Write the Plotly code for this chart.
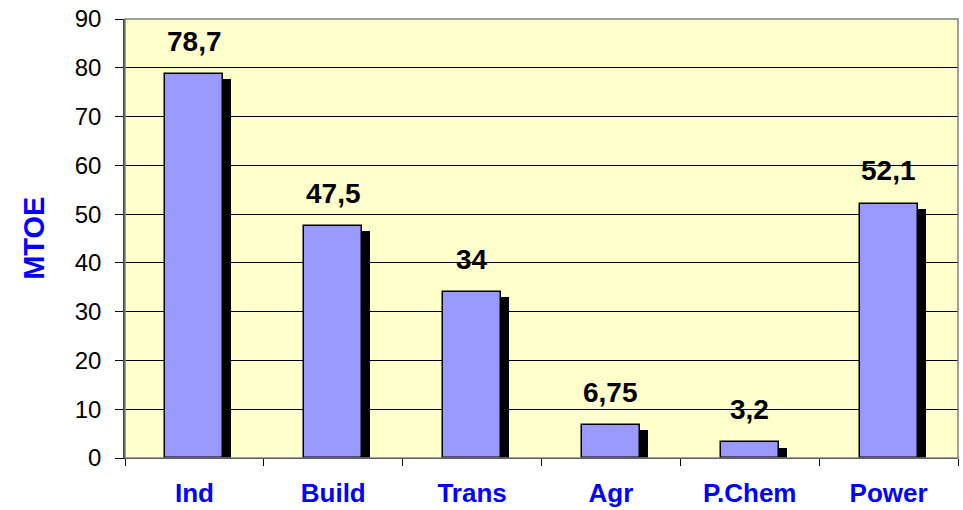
import plotly.graph_objects as go

categories = ["Ind", "Build", "Trans", "Agr", "P.Chem", "Power"]
values = [78.7, 47.5, 34, 6.75, 3.2, 52.1]
value_labels = ["78,7", "47,5", "34", "6,75", "3,2", "52,1"]
y_ticks = [0, 10, 20, 30, 40, 50, 60, 70, 80, 90]

FONT = "Arial, 'Liberation Sans', sans-serif"
BAR_W = 0.418
SHADOW_DX = 0.058
SHADOW_DY = 1.05  # data units (~5px)

fig = go.Figure()

# shadow bars
fig.add_trace(go.Bar(
    x=categories,
    y=[max(v - SHADOW_DY, 0) for v in values],
    width=BAR_W,
    offset=-BAR_W / 2 + SHADOW_DX,
    marker=dict(color="#000000", line=dict(width=0)),
    hoverinfo="skip",
    showlegend=False,
))
# main bars
fig.add_trace(go.Bar(
    x=categories,
    y=values,
    width=BAR_W,
    offset=-BAR_W / 2,
    marker=dict(color="#9999FF", line=dict(color="#000000", width=1.5)),
    showlegend=False,
))

fig.update_layout(
    width=963, height=510,
    margin=dict(l=125, r=5, t=19, b=52),
    paper_bgcolor="#FFFFFF",
    plot_bgcolor="#FFFFCC",
    barmode="overlay",
    bargap=0,
    font=dict(family=FONT),
    xaxis=dict(
        range=[-0.5, 5.5],
        automargin=False,
        tickson="boundaries",
        ticks="outside", ticklen=7, tickcolor="#000000", tickwidth=1,
        showline=True, linecolor="#000000", linewidth=1,
        showgrid=False,
        tickfont=dict(family=FONT, size=26, color="#0000FF", weight="bold"),
        ticklabelstandoff=12,
    ),
    yaxis=dict(
        range=[0, 90],
        automargin=False,
        tickvals=y_ticks,
        ticks="outside", ticklen=8, tickcolor="#000000", tickwidth=1,
        showline=True, linecolor="#404040", linewidth=1.5,
        showgrid=True, gridcolor="#000000", gridwidth=1,
        zeroline=False,
        tickfont=dict(family=FONT, size=24, color="#000000"),
        ticklabelstandoff=9,
    ),
    shapes=[dict(type="rect", xref="paper", yref="paper", x0=0, x1=1, y0=0, y1=1,
                 line=dict(color="#808080", width=1.5), fillcolor="rgba(0,0,0,0)", layer="above")],
    annotations=[dict(text="<b>MTOE</b>", xref="paper", yref="paper", x=-0.110, y=0.5,
                      xanchor="center", yanchor="middle", textangle=-90, showarrow=False,
                      font=dict(family=FONT, size=29, color="#0000FF"))],
)

for c, v, t in zip(categories, values, value_labels):
    fig.add_annotation(
        x=c, y=v, text=f"<b>{t}</b>", showarrow=False,
        yanchor="middle", yshift=33,
        font=dict(family=FONT, size=28, color="#000000"),
    )

fig.write_html("out.html", config={"displayModeBar": False},
               post_script="document.body.style.margin='0';")
